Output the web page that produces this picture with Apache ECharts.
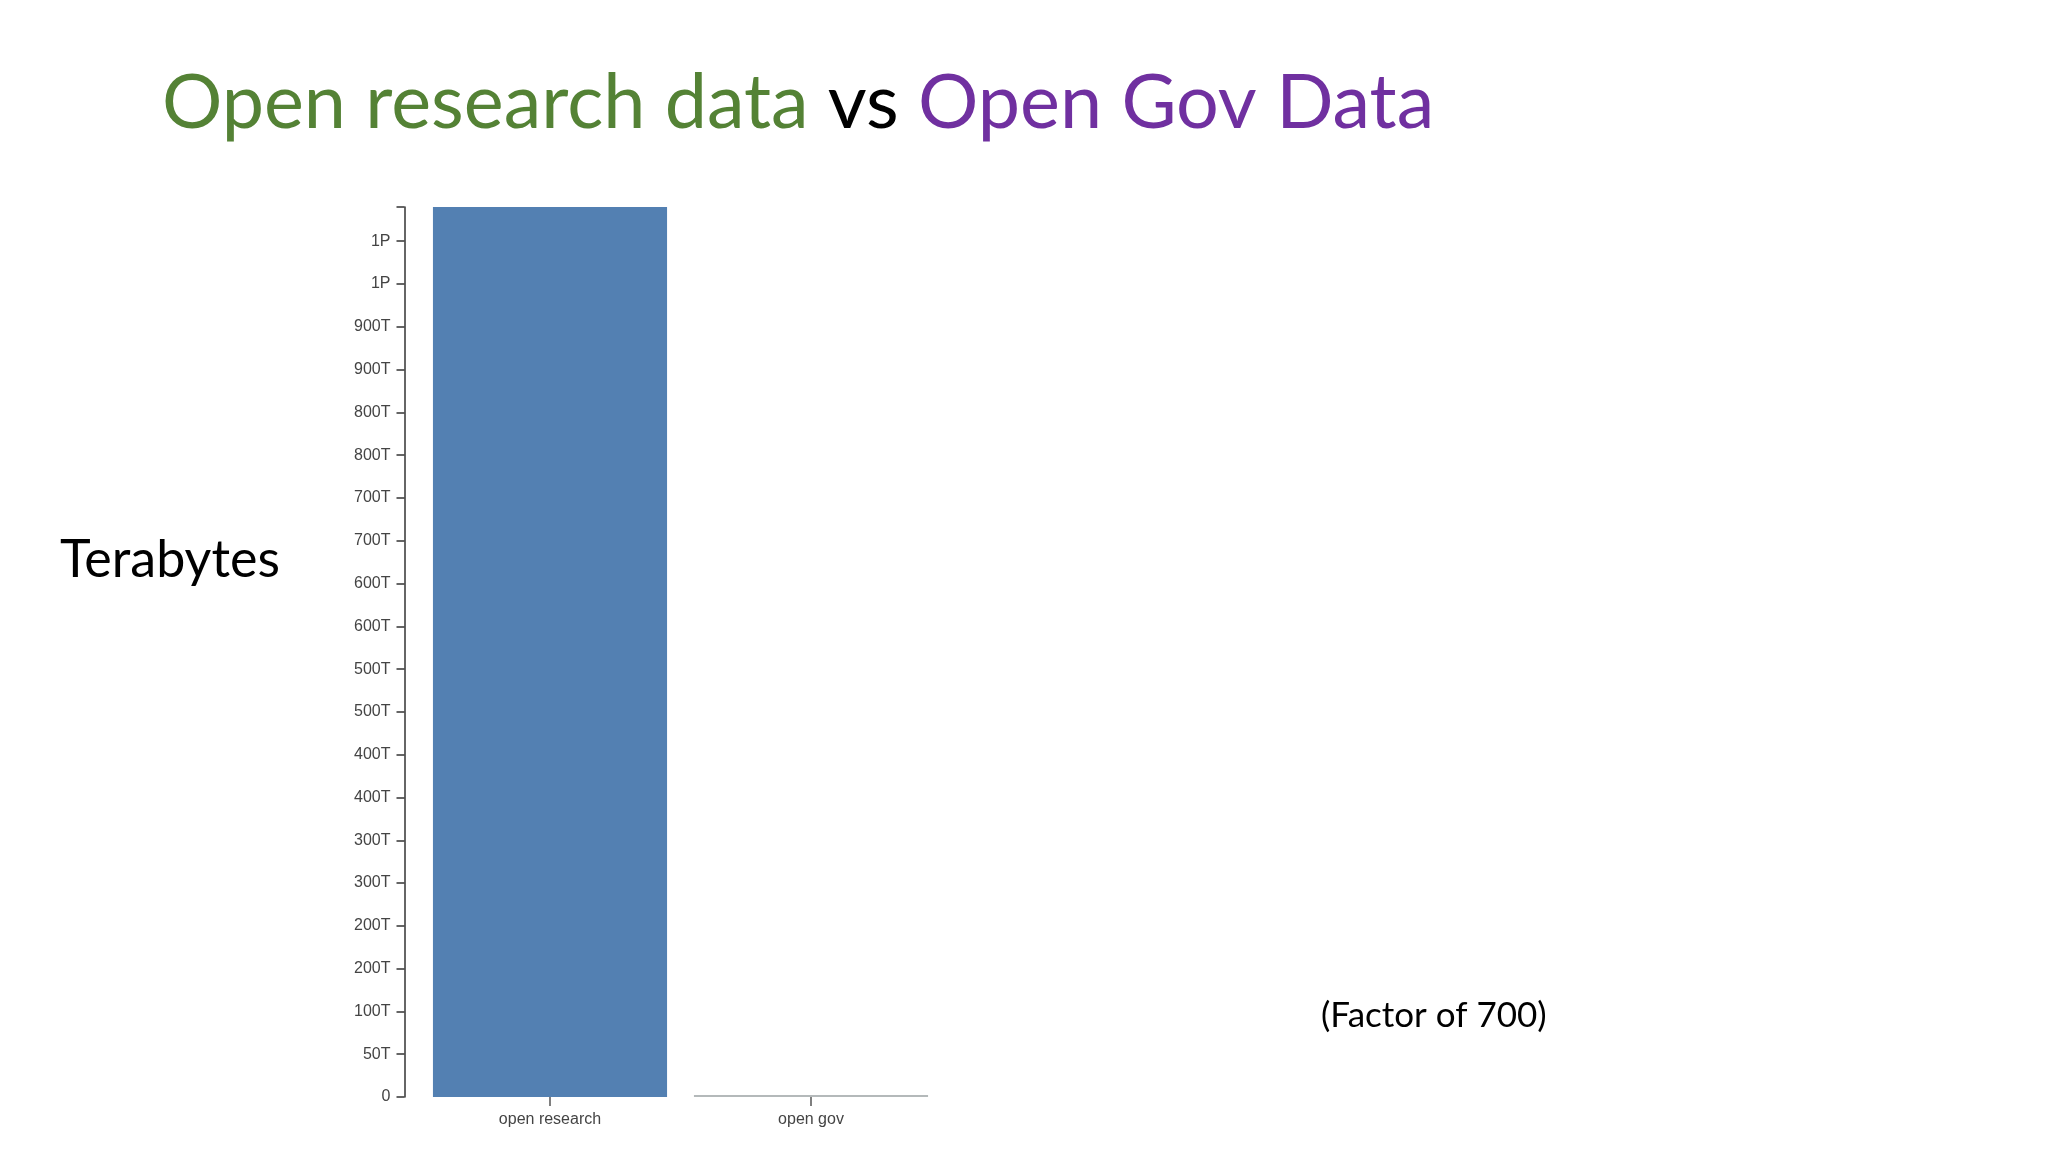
<!DOCTYPE html>
<html>
<head>
<meta charset="utf-8">
<script src="https://cdn.jsdelivr.net/npm/echarts@6/dist/echarts.min.js"></script>
<style>
html,body{margin:0;padding:0;background:#ffffff;}
#chart{width:2048px;height:1152px;}
</style>
</head>
<body>
<div id="chart"></div>
<script>
// ---- data ----
var categories = ['open research', 'open gov'];
var terabytes = [1040, 1.5];
var barColors = ['#5380b2', '#b4b9ba'];
var yTickValues = [0, 50, 100, 150, 200, 250, 300, 350, 400, 450, 500, 550, 600, 650, 700, 750, 800, 850, 900, 950, 1000];
var yTickLabels = ['0', '50T', '100T', '200T', '200T', '300T', '300T', '400T', '400T', '500T', '500T', '600T', '600T', '700T', '700T', '800T', '800T', '900T', '900T', '1P', '1P'];
var titleParts = ['Open research data', 'vs', 'Open Gov Data'];
var yAxisName = 'Terabytes';
var note = '(Factor of 700)';

var chart = echarts.init(document.getElementById('chart'), null, {renderer: 'canvas'});

var option = {
  backgroundColor: '#ffffff',
  animation: false,
  grid: {left: 419.5, right: 1106.5, top: 207, bottom: 55, containLabel: false},
  xAxis: {
    type: 'category',
    data: categories,
    axisLine: {show: false},
    axisTick: {show: true, alignWithLabel: true, length: 9, lineStyle: {color: '#555', width: 1.5}},
    axisLabel: {color: '#444', fontFamily: 'Liberation Sans', fontSize: 16, margin: 15}
  },
  yAxis: {
    type: 'value',
    min: 0,
    max: 1040,
    interval: 50,
    offset: 15,
    splitLine: {show: false},
    axisLine: {show: true, lineStyle: {color: '#333', width: 1.5}},
    axisTick: {show: true, length: 8, lineStyle: {color: '#333', width: 1.5}},
    axisLabel: {
      color: '#444', fontFamily: 'Liberation Sans', fontSize: 16, margin: 14,
      formatter: function (v) {
        var i = yTickValues.indexOf(v);
        return i >= 0 ? yTickLabels[i] : '';
      }
    }
  },
  series: [{
    type: 'bar',
    data: terabytes.map(function (v, i) { return {value: v, itemStyle: {color: barColors[i]}}; }),
    barCategoryGap: '10.3%',
    barMinHeight: 2
  }],
  graphic: [
    {
      type: 'text', left: 162, top: 66,
      style: {
        text: '{g|' + titleParts[0] + '} {k|' + titleParts[1] + '} {p|' + titleParts[2] + '}',
        fontFamily: 'Lato', fontSize: 75.5,
        rich: {
          g: {fill: '#548235', fontFamily: 'Lato', fontSize: 75.5},
          k: {fill: '#000000', fontFamily: 'Lato', fontSize: 75.5},
          p: {fill: '#7030a0', fontFamily: 'Lato', fontSize: 75.5}
        }
      }
    },
    {
      type: 'text', left: 60, top: 534,
      style: {text: yAxisName, fill: '#000', fontFamily: 'Lato', fontSize: 52}
    },
    {
      type: 'text', left: 1321, top: 998,
      style: {text: note, fill: '#000', fontFamily: 'Lato', fontSize: 35}
    }
  ]
};
chart.setOption(option);
</script>
</body>
</html>
